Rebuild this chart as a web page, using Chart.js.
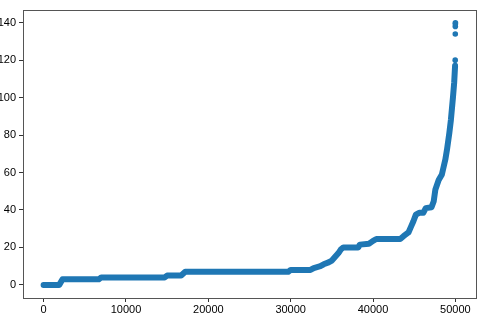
<!DOCTYPE html>
<html>
<head>
<meta charset="utf-8">
<script src="https://cdn.jsdelivr.net/npm/chart.js@4"></script>
<style>
  html, body { margin:0; padding:0; background:#fff; }
  #wrap { width:481px; height:315px; }
</style>
</head>
<body>
<div id="wrap"><canvas id="chart" width="481" height="315"></canvas></div>
<script>
// --- Data (sorted values, index on x)
const bandX = [0, 1900, 2300, 2600, 6700, 7000, 14700, 15000, 16700, 17200, 29700, 30000,
  32400, 32800, 33600, 34000, 34600, 35000, 35400, 35800, 36100, 36400, 38200, 38400,
  39500, 40000, 40400, 43300, 43700, 44300, 44600, 44900, 45200, 45600, 46100, 46400,
  47100, 47360, 47570, 47970, 48360, 48780, 48970, 49260, 49450, 49700, 49850, 49960];
const bandY = [0, 0, 3, 3, 3, 4, 4, 5, 5, 7, 7, 8,
  8, 9, 10, 11, 12, 13, 15, 17, 19, 20, 20, 21.5,
  22, 23.5, 24.5, 24.5, 26, 28, 31, 34, 37.5, 38.5, 38.5, 41,
  41.5, 44.5, 51, 56, 59, 67, 72, 81, 88, 100, 108, 117];
const topX = [49975, 49985, 49990, 49995, 50000];
const topY = [120, 134, 138, 139.3, 140];

const xTicks = [0, 10000, 20000, 30000, 40000, 50000];
const yTicks = [0, 20, 40, 60, 80, 100, 120, 140];

const blue = '#1f77b4';
const pts = (xs, ys) => xs.map((x, i) => ({ x, y: ys[i] }));

// --- frame on all four sides, like matplotlib
const frame = {
  id: 'frame',
  afterDraw(chart){
    const a = chart.chartArea, c = chart.ctx;
    c.save();
    c.strokeStyle = '#555'; c.lineWidth = 1;
    c.strokeRect(Math.round(a.left)+0.5, Math.round(a.top)+0.5, Math.round(a.right-a.left), Math.round(a.bottom-a.top));
    c.restore();
  }
};

const tickFont = { family: "'Liberation Sans', Arial, sans-serif", size: 11 };

new Chart(document.getElementById('chart'), {
  type: 'scatter',
  data: {
    datasets: [
      { data: pts(bandX, bandY), showLine: true, borderColor: blue, backgroundColor: blue,
        borderWidth: 6, borderCapStyle: 'round', borderJoinStyle: 'round', pointRadius: 0 },
      { data: pts(topX, topY), backgroundColor: blue, borderColor: blue, pointRadius: 2.8, borderWidth: 0 }
    ]
  },
  options: {
    responsive: false,
    animation: false,
    devicePixelRatio: 1,
    layout: { padding: { top: 3, right: 5, left: 0, bottom: 0 } },
    plugins: { legend: { display: false }, tooltip: { enabled: false } },
    scales: {
      x: {
        type: 'linear', min: -2500, max: 52500,
        afterBuildTicks: s => { s.ticks = xTicks.map(v => ({ value: v })); },
        afterFit: s => { s.height = 17; },
        grid: { drawOnChartArea: false, tickLength: 4, tickColor: '#333', color: '#333' },
        border: { display: false },
        ticks: { color: '#000', font: tickFont, padding: 1, maxRotation: 0, autoSkip: false,
          callback: v => String(v) }
      },
      y: {
        type: 'linear', min: -7, max: 147,
        afterBuildTicks: s => { s.ticks = yTicks.map(v => ({ value: v })); },
        afterFit: s => { s.width = 23; },
        grid: { drawOnChartArea: false, tickLength: 4, tickColor: '#333', color: '#333' },
        border: { display: false },
        ticks: { color: '#000', font: tickFont, padding: 3, autoSkip: false,
          callback: v => String(v) }
      }
    }
  },
  plugins: [frame]
});
</script>
</body>
</html>
